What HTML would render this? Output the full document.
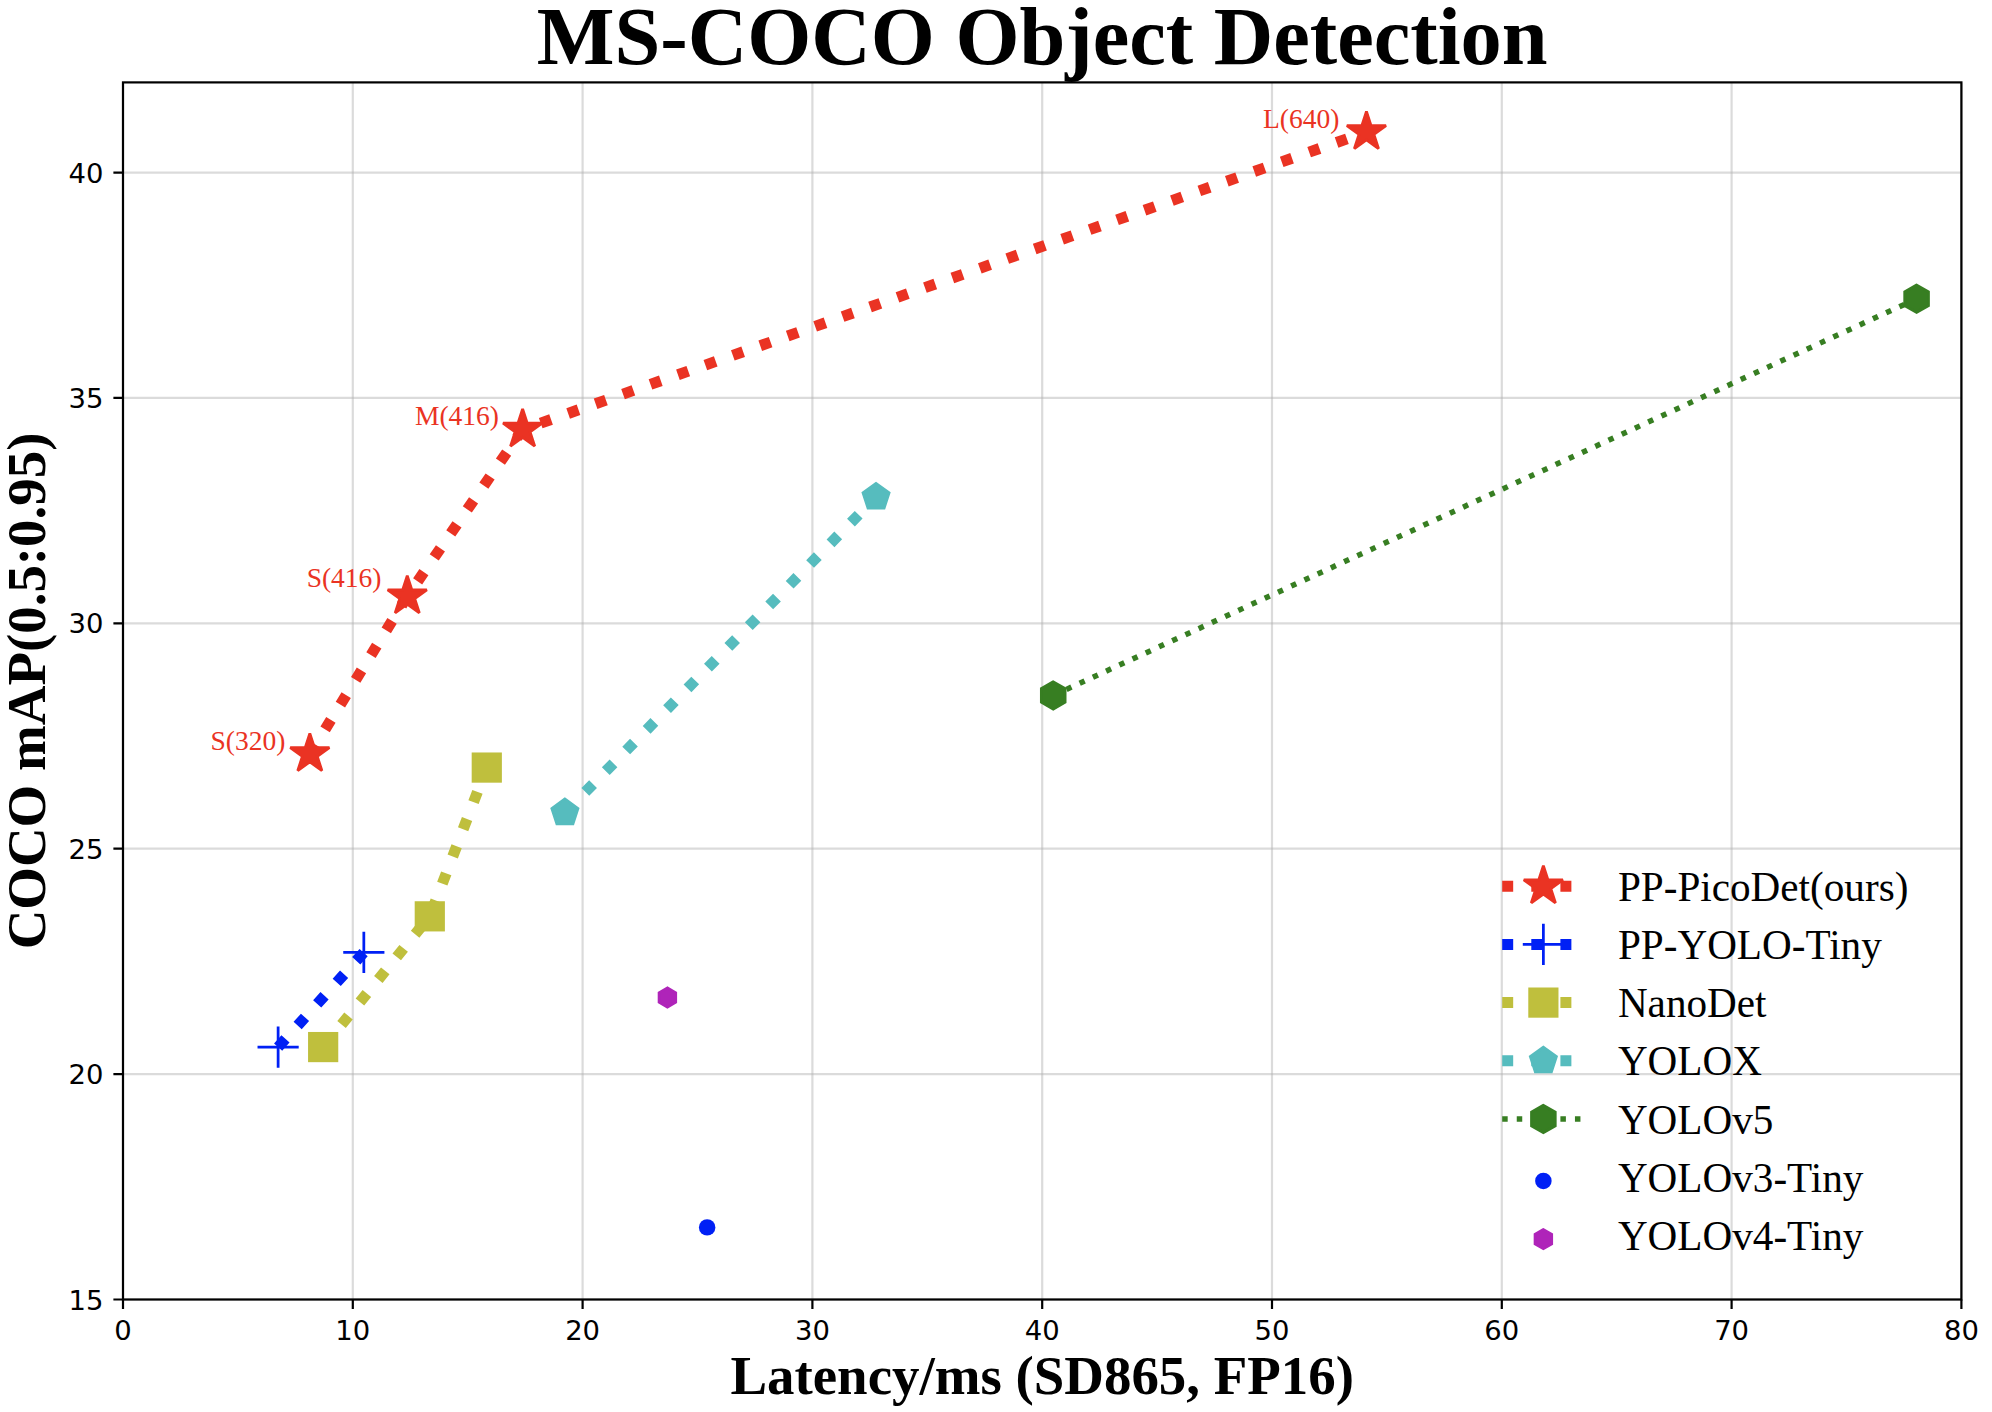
<!DOCTYPE html>
<html lang="en"><head><meta charset="utf-8"><title>MS-COCO Object Detection</title>
<style>html,body{margin:0;padding:0;background:#ffffff;}svg{display:block;}text{white-space:pre;}</style></head><body>
<svg width="1992" height="1412" viewBox="0 0 1992 1412">
<rect x="0" y="0" width="1992" height="1412" fill="#ffffff"/>
<path d="M123 82.4V1299.5M352.8 82.4V1299.5M582.6 82.4V1299.5M812.4 82.4V1299.5M1042.2 82.4V1299.5M1272 82.4V1299.5M1501.8 82.4V1299.5M1731.6 82.4V1299.5M1961.4 82.4V1299.5" stroke="#b0b0b0" stroke-opacity="0.45" stroke-width="2.2" fill="none"/>
<path d="M123 1299.5H1961.4M123 1074.11H1961.4M123 848.72H1961.4M123 623.33H1961.4M123 397.94H1961.4M123 172.56H1961.4" stroke="#b0b0b0" stroke-opacity="0.45" stroke-width="2.2" fill="none"/>
<g>
<polyline points="309.83,754.06 407.26,596.29 522.62,429.5 1366.45,131.99" fill="none" stroke="#ea3323" stroke-width="10.98" stroke-dasharray="10.98 18.12"/>
<polygon points="309.83,733.47 305.21,747.7 290.25,747.7 302.35,756.49 297.73,770.71 309.83,761.92 321.93,770.71 317.31,756.49 329.41,747.7 314.45,747.7" fill="#ea3323" stroke="#ea3323" stroke-width="2.75" stroke-linejoin="miter" stroke-miterlimit="2.2"/>
<polygon points="407.26,575.7 402.64,589.92 387.68,589.92 399.78,598.72 395.16,612.94 407.26,604.15 419.36,612.94 414.74,598.72 426.84,589.92 411.88,589.92" fill="#ea3323" stroke="#ea3323" stroke-width="2.75" stroke-linejoin="miter" stroke-miterlimit="2.2"/>
<polygon points="522.62,408.91 518,423.14 503.04,423.14 515.14,431.93 510.52,446.15 522.62,437.36 534.72,446.15 530.1,431.93 542.2,423.14 527.24,423.14" fill="#ea3323" stroke="#ea3323" stroke-width="2.75" stroke-linejoin="miter" stroke-miterlimit="2.2"/>
<polygon points="1366.45,111.4 1361.83,125.62 1346.87,125.62 1358.97,134.42 1354.35,148.64 1366.45,139.85 1378.55,148.64 1373.93,134.42 1386.03,125.62 1371.07,125.62" fill="#ea3323" stroke="#ea3323" stroke-width="2.75" stroke-linejoin="miter" stroke-miterlimit="2.2"/>
<polyline points="278.12,1047.06 363.83,952.4" fill="none" stroke="#0020f5" stroke-width="10.98" stroke-dasharray="10.98 18.12"/>
<path d="M257.53 1047.06H298.7M278.12 1026.48V1067.65" stroke="#0020f5" stroke-width="2.75" fill="none"/>
<path d="M343.24 952.4H384.42M363.83 931.81V972.99" stroke="#0020f5" stroke-width="2.75" fill="none"/>
<polyline points="323.16,1047.06 429.78,916.34 486.77,767.58" fill="none" stroke="#bfbf3d" stroke-width="10.98" stroke-dasharray="10.98 18.12"/>
<rect x="308.06" y="1031.97" width="30.2" height="30.2" fill="#bfbf3d"/>
<rect x="414.69" y="901.24" width="30.2" height="30.2" fill="#bfbf3d"/>
<rect x="471.68" y="752.48" width="30.2" height="30.2" fill="#bfbf3d"/>
<polyline points="564.91,812.66 876.05,497.12" fill="none" stroke="#56bcbe" stroke-width="10.98" stroke-dasharray="10.98 18.12"/>
<polygon points="564.91,798.93 551.85,808.42 556.84,823.76 572.97,823.76 577.96,808.42" fill="#56bcbe" stroke="#56bcbe" stroke-width="2.75" stroke-linejoin="miter"/>
<polygon points="876.05,483.39 863,492.87 867.99,508.22 884.12,508.22 889.11,492.87" fill="#56bcbe" stroke="#56bcbe" stroke-width="2.75" stroke-linejoin="miter"/>
<polyline points="1053.23,695.46 1916.59,298.77" fill="none" stroke="#377e22" stroke-width="5.49" stroke-dasharray="5.49 9.06"/>
<polygon points="1053.23,681.73 1041.34,688.6 1041.34,702.32 1053.23,709.18 1065.12,702.32 1065.12,688.6" fill="#377e22" stroke="#377e22" stroke-width="2.75" stroke-linejoin="miter"/>
<polygon points="1916.59,285.05 1904.7,291.91 1904.7,305.64 1916.59,312.5 1928.48,305.64 1928.48,291.91" fill="#377e22" stroke="#377e22" stroke-width="2.75" stroke-linejoin="miter"/>
<circle cx="707.15" cy="1227.38" r="8.24" fill="#0020f5"/>
<polygon points="667.4,987.87 659.08,992.68 659.08,1002.28 667.4,1007.09 675.72,1002.28 675.72,992.68" fill="#af24b9" stroke="#af24b9" stroke-width="2.75" stroke-linejoin="miter"/>
</g>
<text x="285.4" y="749.7" text-anchor="end" font-family='"Liberation Serif", "DejaVu Serif", serif' font-size="27.5" fill="#ea3323">S(320)</text>
<text x="381.5" y="587.3" text-anchor="end" font-family='"Liberation Serif", "DejaVu Serif", serif' font-size="27.5" fill="#ea3323">S(416)</text>
<text x="499" y="425.3" text-anchor="end" font-family='"Liberation Serif", "DejaVu Serif", serif' font-size="27.5" fill="#ea3323">M(416)</text>
<text x="1339.4" y="128" text-anchor="end" font-family='"Liberation Serif", "DejaVu Serif", serif' font-size="27.5" fill="#ea3323">L(640)</text>
<rect x="123" y="82.4" width="1838.4" height="1217.1" fill="none" stroke="#000" stroke-width="2.2" stroke-linejoin="miter"/>
<path d="M123 1299.5v9.61M352.8 1299.5v9.61M582.6 1299.5v9.61M812.4 1299.5v9.61M1042.2 1299.5v9.61M1272 1299.5v9.61M1501.8 1299.5v9.61M1731.6 1299.5v9.61M1961.4 1299.5v9.61M123 1299.5h-9.61M123 1074.11h-9.61M123 848.72h-9.61M123 623.33h-9.61M123 397.94h-9.61M123 172.56h-9.61" stroke="#000" stroke-width="2.2" fill="none"/>
<g font-family='"DejaVu Sans", "Liberation Sans", sans-serif' font-size="27.45" fill="#000">
<text x="123" y="1339.9" text-anchor="middle">0</text>
<text x="352.8" y="1339.9" text-anchor="middle">10</text>
<text x="582.6" y="1339.9" text-anchor="middle">20</text>
<text x="812.4" y="1339.9" text-anchor="middle">30</text>
<text x="1042.2" y="1339.9" text-anchor="middle">40</text>
<text x="1272" y="1339.9" text-anchor="middle">50</text>
<text x="1501.8" y="1339.9" text-anchor="middle">60</text>
<text x="1731.6" y="1339.9" text-anchor="middle">70</text>
<text x="1961.4" y="1339.9" text-anchor="middle">80</text>
<text x="103.4" y="1309.6" text-anchor="end">15</text>
<text x="103.4" y="1084.21" text-anchor="end">20</text>
<text x="103.4" y="858.82" text-anchor="end">25</text>
<text x="103.4" y="633.43" text-anchor="end">30</text>
<text x="103.4" y="408.04" text-anchor="end">35</text>
<text x="103.4" y="182.66" text-anchor="end">40</text>
</g>
<text x="1042.2" y="64.2" text-anchor="middle" font-family='"Liberation Serif", "DejaVu Serif", serif' font-weight="bold" font-size="82.35" fill="#000">MS-COCO Object Detection</text>
<text x="1042.2" y="1394" text-anchor="middle" font-family='"Liberation Serif", "DejaVu Serif", serif' font-weight="bold" font-size="54.9" fill="#000">Latency/ms (SD865, FP16)</text>
<text transform="translate(45.3,690.95) rotate(-90)" x="0" y="0" text-anchor="middle" font-family='"Liberation Serif", "DejaVu Serif", serif' font-weight="bold" font-size="54.9" fill="#000">COCO mAP(0.5:0.95)</text>
<g font-family='"Liberation Serif", "DejaVu Serif", serif' font-size="41.18" fill="#000">
<path d="M1502.2 886.2H1584.55" stroke="#ea3323" stroke-width="10.98" stroke-dasharray="10.98 18.12" fill="none"/>
<polygon points="1543.38,865.61 1538.75,879.84 1523.8,879.84 1535.9,888.63 1531.27,902.86 1543.38,894.06 1555.48,902.86 1550.85,888.63 1562.95,879.84 1548,879.84" fill="#ea3323" stroke="#ea3323" stroke-width="2.75" stroke-linejoin="miter" stroke-miterlimit="2.2"/>
<text x="1617.9" y="900.7">PP-PicoDet(ours)</text>
<path d="M1502.2 944.4H1584.55" stroke="#0020f5" stroke-width="10.98" stroke-dasharray="10.98 18.12" fill="none"/>
<path d="M1522.79 944.4H1563.96M1543.38 923.81V964.99" stroke="#0020f5" stroke-width="2.75" fill="none"/>
<text x="1617.9" y="958.9">PP-YOLO-Tiny</text>
<path d="M1502.2 1002.6H1584.55" stroke="#bfbf3d" stroke-width="10.98" stroke-dasharray="10.98 18.12" fill="none"/>
<rect x="1528.28" y="987.5" width="30.2" height="30.2" fill="#bfbf3d"/>
<text x="1617.9" y="1017.1">NanoDet</text>
<path d="M1502.2 1060.8H1584.55" stroke="#56bcbe" stroke-width="10.98" stroke-dasharray="10.98 18.12" fill="none"/>
<polygon points="1543.38,1047.08 1530.32,1056.56 1535.31,1071.9 1551.44,1071.9 1556.43,1056.56" fill="#56bcbe" stroke="#56bcbe" stroke-width="2.75" stroke-linejoin="miter"/>
<text x="1617.9" y="1075.3">YOLOX</text>
<path d="M1502.2 1119H1584.55" stroke="#377e22" stroke-width="5.49" stroke-dasharray="5.49 9.06" fill="none"/>
<polygon points="1543.38,1105.28 1531.49,1112.14 1531.49,1125.86 1543.38,1132.72 1555.26,1125.86 1555.26,1112.14" fill="#377e22" stroke="#377e22" stroke-width="2.75" stroke-linejoin="miter"/>
<text x="1617.9" y="1133.5">YOLOv5</text>
<circle cx="1543.38" cy="1180.9" r="8.24" fill="#0020f5"/>
<text x="1617.9" y="1191.7">YOLOv3-Tiny</text>
<polygon points="1543.38,1229.49 1535.05,1234.3 1535.05,1243.9 1543.38,1248.71 1551.7,1243.9 1551.7,1234.3" fill="#af24b9" stroke="#af24b9" stroke-width="2.75" stroke-linejoin="miter"/>
<text x="1617.9" y="1249.9">YOLOv4-Tiny</text>
</g>
</svg></body></html>
